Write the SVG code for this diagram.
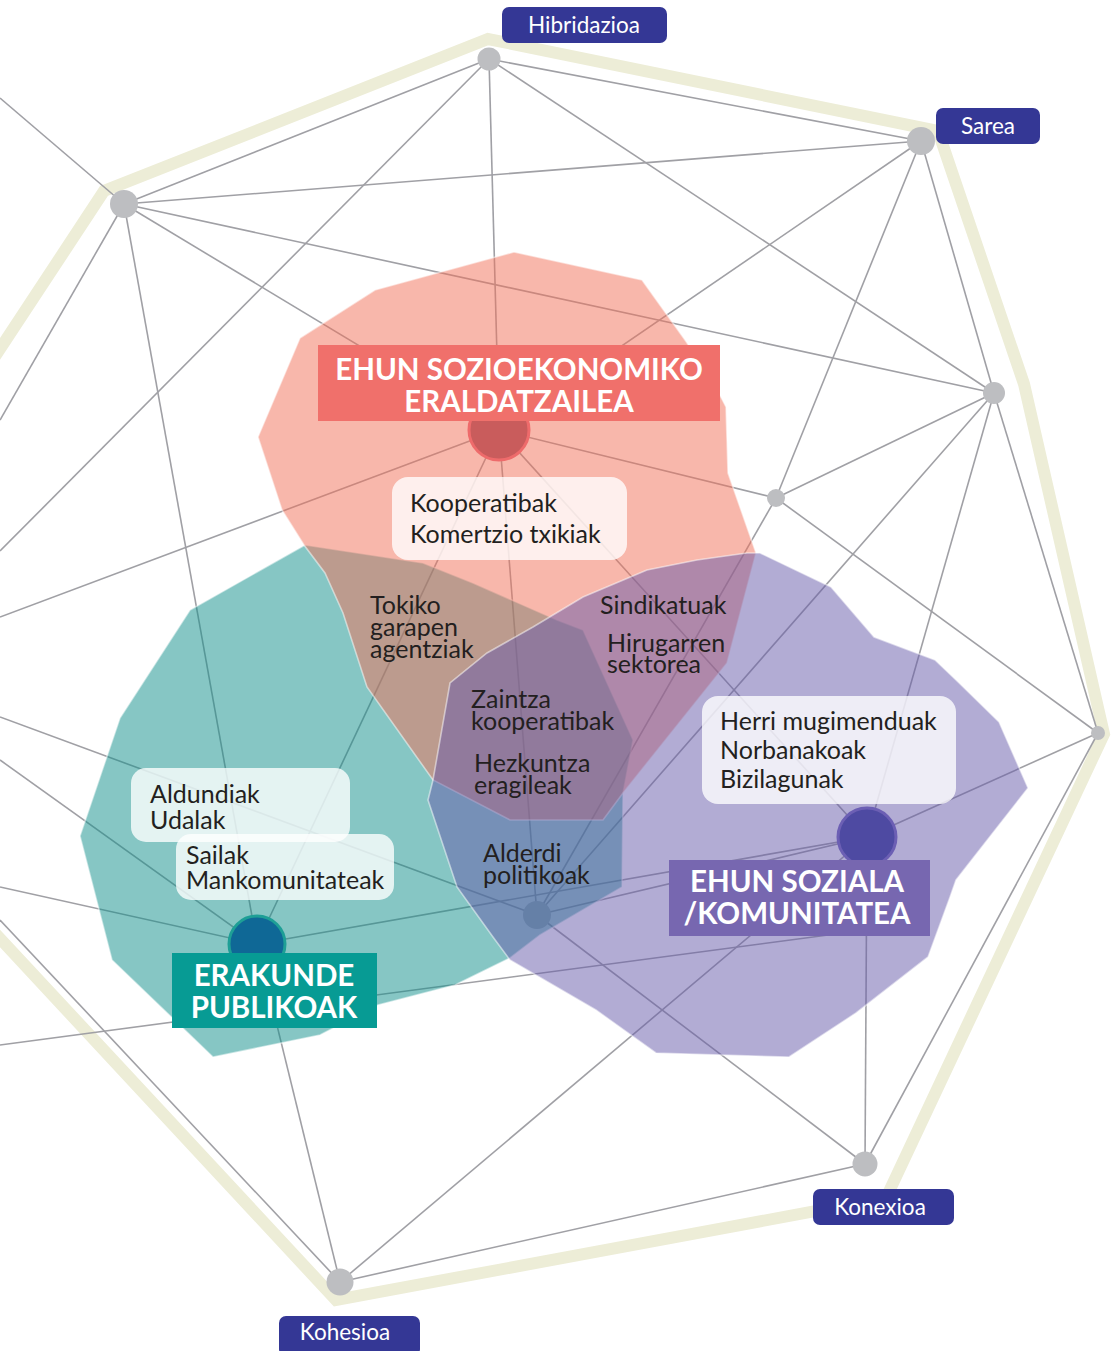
<svg xmlns="http://www.w3.org/2000/svg" width="1119" height="1351" viewBox="0 0 1119 1351">
<style>
.band{fill:none;stroke:#ededd7;stroke-width:12;stroke-linejoin:miter}
.ln{stroke:#a0a0a5;stroke-width:1.6;fill:none}
.gn{fill:#bdbec1}
.tag{fill:#343795}
.tagt{font-family:Lato,'Liberation Sans',sans-serif;font-size:22.5px;fill:#ffffff;text-anchor:middle}
.reg{stroke:#ffffff;stroke-opacity:0.5;stroke-width:1.6;fill-opacity:0.5}
.box{fill:#ffffff;fill-opacity:0.78}
.bt{font-family:Lato,'Liberation Sans',sans-serif;font-size:25px;fill:#231f20}
.ht{font-family:Lato,'Liberation Sans',sans-serif;font-weight:700;font-size:29.5px;fill:#ffffff;text-anchor:middle}
</style>
<rect width="1119" height="1351" fill="#ffffff"/>
<polyline class="band" points="-6,358 104,191 488,39 938,131 1024,384 1104,734 886,1198 336,1300 -6,932"/>
<g id="connectors">
<line class="ln" x1="489" y1="59" x2="124" y2="204"/>
<line class="ln" x1="489" y1="59" x2="921" y2="141"/>
<line class="ln" x1="489" y1="59" x2="499" y2="430"/>
<line class="ln" x1="489" y1="59" x2="994" y2="393"/>
<line class="ln" x1="489" y1="59" x2="0" y2="551"/>
<line class="ln" x1="124" y1="204" x2="921" y2="141"/>
<line class="ln" x1="124" y1="204" x2="994" y2="393"/>
<line class="ln" x1="124" y1="204" x2="499" y2="430"/>
<line class="ln" x1="124" y1="204" x2="257" y2="944"/>
<line class="ln" x1="124" y1="204" x2="0" y2="420"/>
<line class="ln" x1="124" y1="204" x2="0" y2="98"/>
<line class="ln" x1="921" y1="141" x2="776" y2="498"/>
<line class="ln" x1="921" y1="141" x2="994" y2="393"/>
<line class="ln" x1="921" y1="141" x2="499" y2="430"/>
<line class="ln" x1="994" y1="393" x2="776" y2="498"/>
<line class="ln" x1="994" y1="393" x2="1098" y2="733"/>
<line class="ln" x1="994" y1="393" x2="867" y2="837"/>
<line class="ln" x1="994" y1="393" x2="537" y2="915"/>
<line class="ln" x1="776" y1="498" x2="1098" y2="733"/>
<line class="ln" x1="776" y1="498" x2="537" y2="915"/>
<line class="ln" x1="776" y1="498" x2="499" y2="430"/>
<line class="ln" x1="1098" y1="733" x2="867" y2="837"/>
<line class="ln" x1="1098" y1="733" x2="865" y2="1164"/>
<line class="ln" x1="865" y1="1164" x2="867" y2="837"/>
<line class="ln" x1="865" y1="1164" x2="340" y2="1282"/>
<line class="ln" x1="865" y1="1164" x2="537" y2="915"/>
<line class="ln" x1="340" y1="1282" x2="867" y2="837"/>
<line class="ln" x1="340" y1="1282" x2="257" y2="944"/>
<line class="ln" x1="340" y1="1282" x2="0" y2="920"/>
<line class="ln" x1="499" y1="430" x2="537" y2="915"/>
<line class="ln" x1="499" y1="430" x2="257" y2="944"/>
<line class="ln" x1="499" y1="430" x2="867" y2="837"/>
<line class="ln" x1="499" y1="430" x2="0" y2="617"/>
<line class="ln" x1="537" y1="915" x2="0" y2="717"/>
<line class="ln" x1="537" y1="915" x2="867" y2="837"/>
<line class="ln" x1="257" y1="944" x2="867" y2="837"/>
<line class="ln" x1="257" y1="944" x2="0" y2="760"/>
<line class="ln" x1="257" y1="944" x2="0" y2="887"/>
<line class="ln" x1="0" y1="1045" x2="866" y2="930"/>
</g>
<g id="node-hibridazioa-pt"><circle class="gn" cx="489" cy="59" r="11.5"/></g>
<g id="node-topleft"><circle class="gn" cx="124" cy="204" r="14"/></g>
<g id="node-sarea-pt"><circle class="gn" cx="921" cy="141" r="14"/></g>
<g id="node-right-upper"><circle class="gn" cx="994" cy="393" r="11"/></g>
<g id="node-mid-right"><circle class="gn" cx="776" cy="498" r="9"/></g>
<g id="node-right"><circle class="gn" cx="1098" cy="733" r="7"/></g>
<g id="node-konexioa-pt"><circle class="gn" cx="865" cy="1164" r="12.5"/></g>
<g id="node-kohesioa-pt"><circle class="gn" cx="340" cy="1282" r="13.5"/></g>
<g id="node-center"><circle class="gn" cx="537" cy="915" r="14"/></g>
<g id="regions">
<polygon id="region-teal" class="reg" fill="#0d8d89" points="305,545 423,563 473,583 557,620 583,630 633,740 623,793 622,887 540,935 510,958 455,985 378,1005 320,1035 213,1057 112,960 80,836 120,718 190,610"/>
<polygon id="region-red" class="reg" fill="#f16f57" points="514,252 642,280 685,340 712,380 726,407 728,473 756,553 727,663 623,793 603,820 510,820 433,780 367,687 343,613 325,573 304,545 282,510 258,437 300,338 375,290"/>
<polygon id="region-purple" class="reg" fill="#6559a9" points="760,553 831,587 874,637 935,660 956,680 999,722 1028,788 956,880 950,897 928,957 856,1013 789,1057 656,1053 596,1010 510,960 493,937 457,887 428,800 433,780 450,683 487,653 533,627 583,597 647,570 697,560 747,553"/>
</g>
<g id="box-kooperatibak">
<rect class="box" x="392" y="477" width="235" height="83" rx="16"/>
<text class="bt" x="410" y="512">Kooperatibak</text>
<text class="bt" x="410" y="543">Komertzio txikiak</text>
</g>
<g id="box-aldundiak">
<rect class="box" x="131" y="768" width="219" height="74" rx="15"/>
<text class="bt" x="150" y="803">Aldundiak</text>
<text class="bt" x="150" y="829">Udalak</text>
</g>
<g id="box-sailak">
<rect class="box" x="176" y="834" width="218" height="66" rx="15"/>
<text class="bt" x="186" y="864">Sailak</text>
<text class="bt" x="186" y="889">Mankomunitateak</text>
</g>
<g id="box-herri">
<rect class="box" x="702" y="696" width="254" height="108" rx="16"/>
<text class="bt" x="720" y="730">Herri mugimenduak</text>
<text class="bt" x="720" y="759">Norbanakoak</text>
<text class="bt" x="720" y="788">Bizilagunak</text>
</g>
<g id="overlap-texts">
<text class="bt" x="370" y="614">Tokiko</text>
<text class="bt" x="370" y="636">garapen</text>
<text class="bt" x="370" y="658">agentziak</text>
<text class="bt" x="600" y="614">Sindikatuak</text>
<text class="bt" x="607" y="652">Hirugarren</text>
<text class="bt" x="607" y="673">sektorea</text>
<text class="bt" x="471" y="708">Zaintza</text>
<text class="bt" x="471" y="730">kooperatibak</text>
<text class="bt" x="474" y="772">Hezkuntza</text>
<text class="bt" x="474" y="794">eragileak</text>
<text class="bt" x="483" y="862">Alderdi</text>
<text class="bt" x="483" y="884">politikoak</text>
</g>
<g id="hub-red">
<circle cx="499" cy="430" r="30" fill="#c95c5c" stroke="#ee6b6b" stroke-width="3"/>
<rect x="318" y="345" width="402" height="76" fill="#f0706b"/>
<text class="ht" x="519" y="380">EHUN SOZIOEKONOMIKO</text>
<text class="ht" x="519" y="412">ERALDATZAILEA</text>
</g>
<g id="hub-teal">
<circle cx="257" cy="944" r="28" fill="#0f6896" stroke="#1e9f96" stroke-width="3"/>
<rect x="172" y="953" width="205" height="75" fill="#079b94"/>
<text class="ht" x="274" y="986">ERAKUNDE</text>
<text class="ht" x="274" y="1018">PUBLIKOAK</text>
</g>
<g id="hub-purple">
<circle cx="867" cy="837" r="29" fill="#4e4aa2" stroke="#6c5fb4" stroke-width="3"/>
<rect x="669" y="860" width="261" height="76" fill="#7767b0"/>
<text class="ht" x="797" y="892">EHUN SOZIALA</text>
<text class="ht" x="797" y="924">/KOMUNITATEA</text>
</g>
<g id="tag-hibridazioa">
<rect class="tag" x="502" y="7" width="165" height="36" rx="7"/>
<text class="tagt" x="584" y="33">Hibridazioa</text>
</g>
<g id="tag-sarea">
<rect class="tag" x="936" y="108" width="104" height="36" rx="7"/>
<text class="tagt" x="988" y="134">Sarea</text>
</g>
<g id="tag-konexioa">
<rect class="tag" x="813" y="1189" width="141" height="36" rx="7"/>
<text class="tagt" x="880" y="1215">Konexioa</text>
</g>
<g id="tag-kohesioa">
<rect class="tag" x="279" y="1316" width="141" height="40" rx="7"/>
<text class="tagt" x="345" y="1340">Kohesioa</text>
</g>
</svg>
